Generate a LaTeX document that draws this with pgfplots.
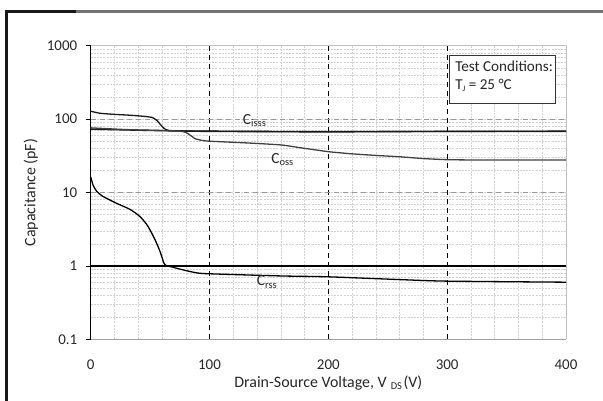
\documentclass[border=0pt]{standalone}
\usepackage{fontspec}
\setmainfont{Carlito}
\usepackage{pgfplots}
\pgfplotsset{compat=1.18}

\begin{document}
\begin{tikzpicture}
\path[use as bounding box] (-90.7bp,-61.7bp) rectangle (512.3bp,339.3bp);
% frame of the screenshot
\draw[line width=3bp, black!55] (-84bp,327.3bp) -- (512.3bp,327.3bp);
\draw[line width=3bp, black!90] (-84bp,327.3bp) -- (-15bp,327.3bp);
\draw[line width=3bp, black!90] (-84bp,-61.7bp) -- (-84bp,328.8bp);
\begin{axis}[
    at={(0,0)}, anchor=south west,
    scale only axis,
    width=475.3bp, height=293.6bp,
    xmin=0, xmax=400,
    ymode=log, ymin=0.1, ymax=1000,
    xtick={0,100,200,300,400},
    xticklabels={0,100,200,300,400},
    ytick={0.1,1,10,100,1000},
    yticklabels={0.1,1,10,100,1000},
    minor x tick num=4,
    grid=minor,
    minor grid style={gray!35, dash pattern=on 2bp off 1.2bp, line width=0.5bp},
    axis line style={draw=none},
    tick align=center,
    major tick length=10bp,
    minor tick length=0pt,
    ytick pos=left,
    xtick style={draw=none},
    ytick style={black, line width=0.8bp},
    tick label style={font=\fontsize{15}{18}\selectfont, black!85},
    xticklabel style={yshift=-12bp},
    yticklabel style={xshift=-5bp},
    xlabel={Drain-Source Voltage, V\hspace{0.25em}\raisebox{-0.25ex}{\fontsize{10.5}{12}\selectfont DS}\hspace{0.1em}(V)},
    ylabel={Capacitance (pF)},
    label style={font=\fontsize{16}{19}\selectfont, black!85},
    xlabel style={at={(axis description cs:0.5,-0.1488)}, anchor=center},
    ylabel style={at={(axis description cs:-0.1262,0.5)}, anchor=center},
    clip=false,
]
% major grid lines
\draw[black, line width=1bp, dash pattern=on 5bp off 4bp] (axis cs:100,0.1) -- (axis cs:100,1000);
\draw[black, line width=1bp, dash pattern=on 5bp off 4bp] (axis cs:200,0.1) -- (axis cs:200,1000);
\draw[black, line width=1bp, dash pattern=on 5bp off 4bp] (axis cs:300,0.1) -- (axis cs:300,1000);
\draw[gray!80, line width=1bp, dash pattern=on 5bp off 4bp] (axis cs:0,10) -- (axis cs:400,10);
\draw[gray!80, line width=1bp, dash pattern=on 5bp off 4bp] (axis cs:0,100) -- (axis cs:400,100);
\draw[black, line width=1.2bp] (axis cs:0,1) -- (axis cs:400,1);
% frame of the plot area
\draw[gray!50, line width=0.8bp] (rel axis cs:0,1) -- (rel axis cs:1,1) -- (rel axis cs:1,0);
\draw[gray!75, line width=1.5bp] (rel axis cs:0,0) -- (rel axis cs:1,0);
\draw[black, line width=1.2bp] (rel axis cs:0,0) -- (rel axis cs:0,1);

% flat input capacitance line
\addplot[black!90, line width=1.4bp, smooth, tension=0.3] coordinates {
(0,73) (50,70) (100,68) (200,67) (300,68) (400,68.5)};
% Ciss
\addplot[black!90, line width=1.3bp, smooth, tension=0.3] coordinates {
(0,128) (8,120) (20,116) (33,113) (45,109) (52,105) (56,95) (59,83)
(62,74) (66,70) (80,69) (150,68) (250,68) (400,68)};
% Coss
\addplot[black!75, line width=1.3bp, smooth, tension=0.3] coordinates {
(0,76) (30,72) (60,70) (75,68.5) (80,66) (84,60) (88,54) (93,51.5)
(100,50) (130,47.5) (160,44.5) (177,40.6) (200,36) (220,33.6) (240,32)
(261,30.6) (280,29) (300,28) (330,27.7) (400,27.7)};
% Crss
\addplot[black, line width=1.3bp, smooth, tension=0.4] coordinates {
(0,16.3) (2,12.6) (5,10.4) (10,8.9) (22,7.1) (33,5.9) (41.5,4.7)
(48,3.5) (54,2.3) (58.5,1.55) (61.5,1.1) (63,1.02) (67,0.98) (78,0.88)
(90,0.8) (101,0.78) (160,0.73) (200,0.71) (261,0.65) (300,0.62) (400,0.6)};

% curve labels
\node[anchor=base west, inner sep=0pt, font=\fontsize{15.5}{18}\selectfont, black!85]
  at (axis cs:128,85.7) {C\raisebox{-0.35ex}{\fontsize{10.5}{12}\selectfont isss}};
\node[anchor=base west, inner sep=0pt, font=\fontsize{15.5}{18}\selectfont, black!85]
  at (axis cs:151.8,25) {C\raisebox{-0.35ex}{\fontsize{10.5}{12}\selectfont oss}};
\node[anchor=base west, inner sep=0pt, font=\fontsize{15.5}{18}\selectfont, black!85]
  at (axis cs:139.7,0.537) {C\raisebox{-0.35ex}{\fontsize{10.5}{12}\selectfont rss}};

% test conditions box
\draw[fill=white, draw=black!80, line width=1bp] (axis cs:301.6,746) rectangle (axis cs:390.8,164);
\node[anchor=base west, inner sep=0pt, font=\fontsize{15.2}{17}\selectfont, black!85]
  at (axis cs:306.7,442.6) {Test Conditions:};
\node[anchor=base west, inner sep=0pt, font=\fontsize{15.2}{17}\selectfont, black!85]
  at (axis cs:306.7,254.5) {T\raisebox{-0.3ex}{\fontsize{8.5}{10}\selectfont J} = 25 °C};
\end{axis}
\end{tikzpicture}
\end{document}
